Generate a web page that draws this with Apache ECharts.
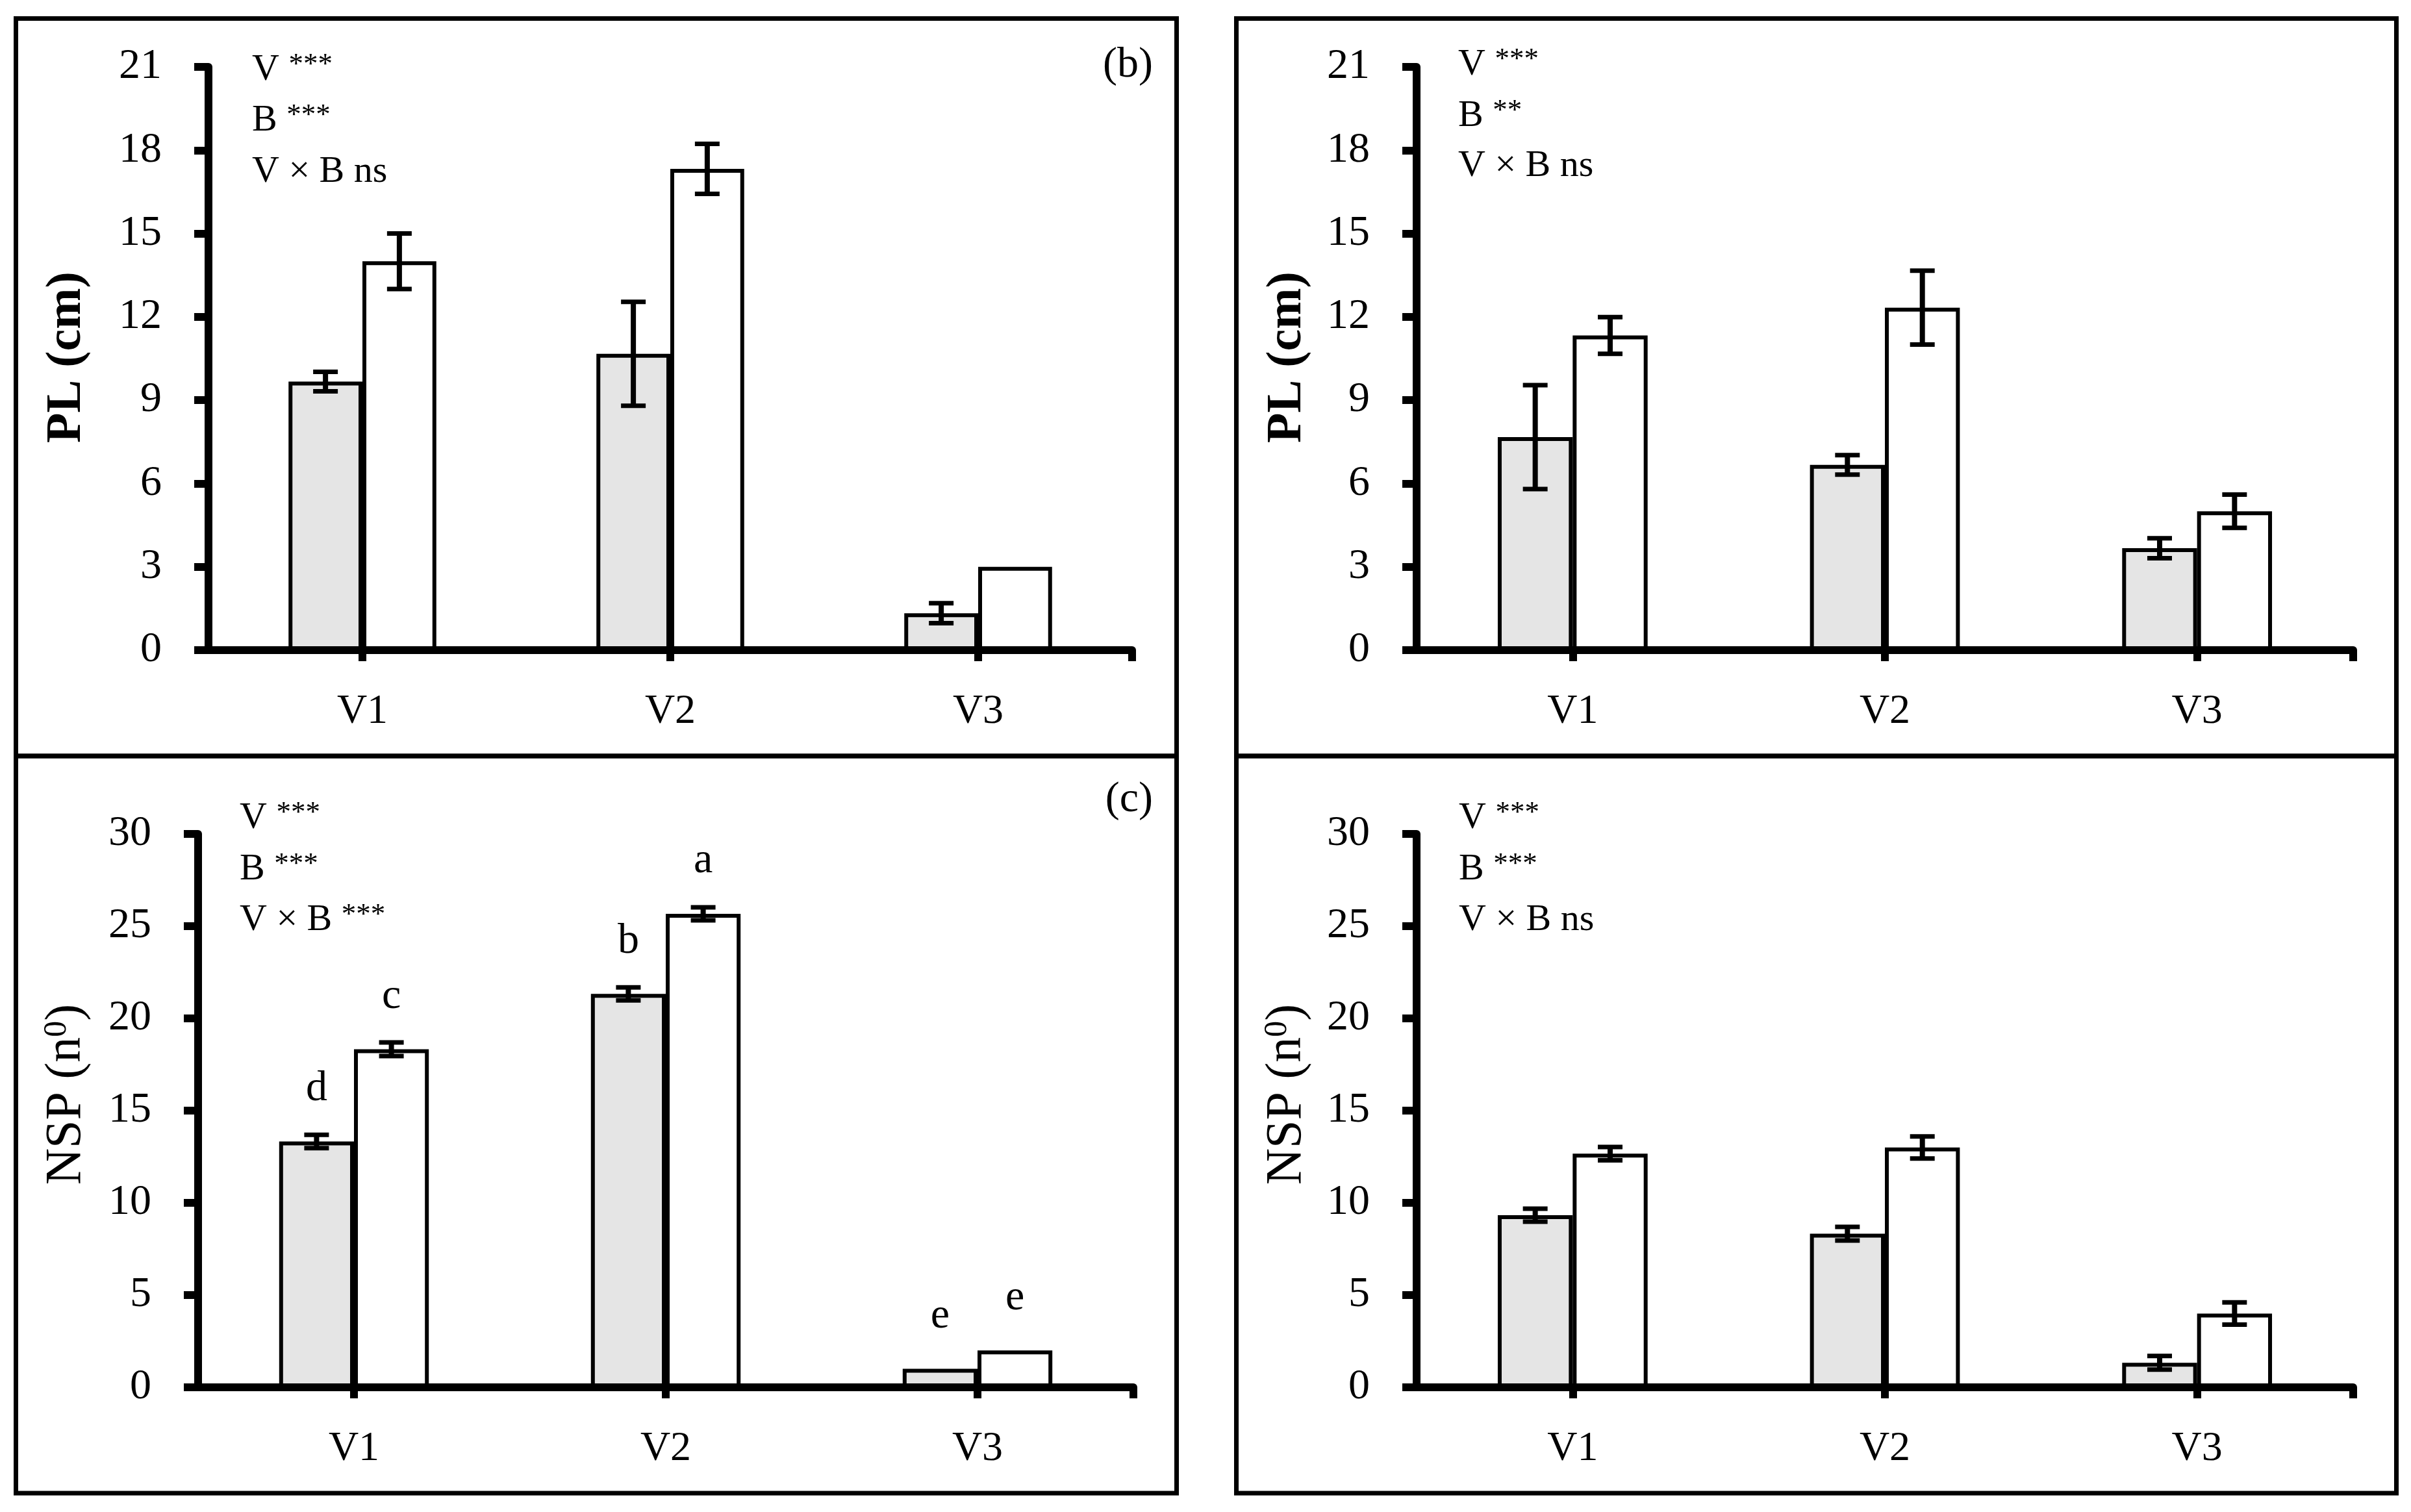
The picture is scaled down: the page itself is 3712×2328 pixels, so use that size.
<!DOCTYPE html>
<html>
<head>
<meta charset="utf-8">
<title>PL and NSP by variety</title>
<script src="https://cdn.jsdelivr.net/npm/echarts@6/dist/echarts.min.js"></script>
<style>
  html, body { margin: 0; padding: 0; background: #fff; }
  #chart { width: 3712px; height: 2328px; }
</style>
</head>
<body>
<div id="chart"></div>
<script>
const categories = ['V1', 'V2', 'V3'];

// (b) PL, left panel
const plGreyB = [9.67, 10.67, 1.33];
const plWhiteB = [14.0, 17.33, 3.0];
const plGreyErrB = [0.35, 1.87, 0.36];
const plWhiteErrB = [1.0, 0.9, 0];

// PL, right panel
const plGreyR = [7.67, 6.67, 3.67];
const plWhiteR = [11.33, 12.33, 5.0];
const plGreyErrR = [1.87, 0.35, 0.36];
const plWhiteErrR = [0.66, 1.33, 0.6];

// (c) NSP, left panel
const nspGreyC = [13.33, 21.33, 1.0];
const nspWhiteC = [18.33, 25.67, 2.0];
const nspGreyErrC = [0.36, 0.35, 0];
const nspWhiteErrC = [0.37, 0.35, 0];
const lettersGreyC = ['d', 'b', 'e'];
const lettersWhiteC = ['c', 'a', 'e'];

// NSP, right panel
const nspGreyR = [9.33, 8.33, 1.33];
const nspWhiteR = [12.67, 13.0, 4.0];
const nspGreyErrR = [0.35, 0.37, 0.37];
const nspWhiteErrR = [0.36, 0.6, 0.6];

// significance of the two-way ANOVA terms
const effectsB = [['V', '***'], ['B', '***'], ['V × B', 'ns']];
const effectsPLR = [['V', '***'], ['B', '**'], ['V × B', 'ns']];
const effectsC = [['V', '***'], ['B', '***'], ['V × B', '***']];
const effectsNSPR = [['V', '***'], ['B', '***'], ['V × B', 'ns']];

const FONT = 'Liberation Serif';
const GREY = '#e5e5e5';
const BAR_GAP = 0.52;

const panels = [
    { grid: { left: 321, top: 103, width: 1422, height: 898 }, max: 21, step: 3,
      grey: plGreyB, white: plWhiteB, greyErr: plGreyErrB, whiteErr: plWhiteErrB,
      effects: effectsB, fx: 388, fy: [108, 186, 265],
      tag: '(b)', tagY: 101, name: '{b|PL (cm)}', nameX: 103, nameY: 550 },
    { grid: { left: 2181, top: 103, width: 1442, height: 898 }, max: 21, step: 3,
      grey: plGreyR, white: plWhiteR, greyErr: plGreyErrR, whiteErr: plWhiteErrR,
      effects: effectsPLR, fx: 2245, fy: [100, 179, 256],
      tag: null, name: '{b|PL (cm)}', nameX: 1982, nameY: 550 },
    { grid: { left: 305, top: 1284, width: 1440, height: 852 }, max: 30, step: 5,
      grey: nspGreyC, white: nspWhiteC, greyErr: nspGreyErrC, whiteErr: nspWhiteErrC,
      lettersGrey: lettersGreyC, lettersWhite: lettersWhiteC,
      effects: effectsC, fx: 369, fy: [1260, 1339, 1417],
      tag: '(c)', tagY: 1232, name: '{n|NSP (n}{s|0}{n|)}', nameX: 103, nameY: 1685 },
    { grid: { left: 2181, top: 1284, width: 1442, height: 852 }, max: 30, step: 5,
      grey: nspGreyR, white: nspWhiteR, greyErr: nspGreyErrR, whiteErr: nspWhiteErrR,
      effects: effectsNSPR, fx: 2246, fy: [1260, 1339, 1417],
      tag: null, name: '{n|NSP (n}{s|0}{n|)}', nameX: 1982, nameY: 1685 }
];

// panel frames (outer boxes)
const frames = [
    [24.5, 28.5, 1811.5, 1164],
    [1903.5, 28.5, 3689.5, 1164],
    [24.5, 1164, 1811.5, 2299],
    [1903.5, 1164, 3689.5, 2299]
];

function renderErr(params, api) {
    const e = api.value(2);
    if (!e) return;
    const x = api.value(0), m = api.value(1), side = api.value(3);
    const band = api.size([1, 0])[0];
    const bw = band * (1 - BAR_GAP) / 2;
    const cx = api.coord([x, m])[0] + side * bw / 2;
    const yTop = api.coord([x, m + e])[1];
    const yBot = api.coord([x, m - e])[1];
    const cap = 19;
    const st = { stroke: '#000', lineWidth: 8 };
    return {
        type: 'group',
        children: [
            { type: 'line', shape: { x1: cx, y1: yTop, x2: cx, y2: yBot }, style: st },
            { type: 'line', shape: { x1: cx - cap, y1: yTop, x2: cx + cap, y2: yTop }, style: { stroke: '#000', lineWidth: 7 } },
            { type: 'line', shape: { x1: cx - cap, y1: yBot, x2: cx + cap, y2: yBot }, style: { stroke: '#000', lineWidth: 7 } }
        ]
    };
}

function effectRich(term, sig) {
    if (sig === 'ns') return '{n|' + term + ' ns}';
    return '{n|' + term + ' }{s|' + sig + '}';
}

const grids = [], xAxes = [], yAxes = [], series = [], graphics = [];

frames.forEach(function (f) {
    graphics.push({
        type: 'rect', silent: true,
        shape: { x: f[0], y: f[1], width: f[2] - f[0], height: f[3] - f[1] },
        style: { fill: null, stroke: '#000', lineWidth: 7 }
    });
});

panels.forEach(function (p, i) {
    grids.push(p.grid);

    // category axis: labels only
    xAxes.push({
        type: 'category', gridIndex: i, position: 'bottom', data: categories,
        axisLine: { show: false }, axisTick: { show: false },
        axisLabel: { fontFamily: FONT, fontSize: 64, color: '#000', margin: 63 }
    });
    // value axis on same extent: draws the line and the ticks under each group + end
    xAxes.push({
        type: 'value', gridIndex: i, position: 'bottom', min: 0, max: categories.length,
        axisLine: { onZero: false, lineStyle: { color: '#000', width: 12 } },
        axisTick: {
            show: true, length: 17, lineStyle: { color: '#000', width: 12 },
            customValues: categories.map(function (c, k) { return k + 0.5; }).concat([categories.length])
        },
        axisLabel: { show: false },
        splitLine: { show: false }
    });
    yAxes.push({
        type: 'value', gridIndex: i, min: 0, max: p.max, interval: p.step,
        axisLine: { show: true, onZero: false, lineStyle: { color: '#000', width: 12 } },
        axisTick: { show: true, length: 22, lineStyle: { color: '#000', width: 12 } },
        axisLabel: { fontFamily: FONT, fontSize: 66, color: '#000', margin: 72 },
        splitLine: { show: false }
    });

    const barBase = {
        type: 'bar', xAxisIndex: i * 2, yAxisIndex: i,
        barGap: '0%', barCategoryGap: (BAR_GAP * 100) + '%',
        silent: true, animation: false
    };
    const letterLabel = function (letters) {
        if (!letters) return { show: false };
        return {
            show: true, position: 'top', distance: 48,
            fontFamily: FONT, fontSize: 66, color: '#000',
            formatter: function (prm) { return letters[prm.dataIndex]; }
        };
    };
    series.push(Object.assign({}, barBase, {
        name: 'grey', data: p.grey,
        itemStyle: { color: GREY, borderColor: '#000', borderWidth: 6 },
        label: letterLabel(p.lettersGrey)
    }));
    series.push(Object.assign({}, barBase, {
        name: 'white', data: p.white,
        itemStyle: { color: '#fff', borderColor: '#000', borderWidth: 6 },
        label: letterLabel(p.lettersWhite)
    }));

    const errData = [];
    categories.forEach(function (c, k) {
        errData.push([k, p.grey[k], p.greyErr[k], -1]);
        errData.push([k, p.white[k], p.whiteErr[k], 1]);
    });
    series.push({
        type: 'custom', xAxisIndex: i * 2, yAxisIndex: i, z: 5,
        renderItem: renderErr, data: errData, clip: false,
        silent: true, animation: false,
        encode: { x: 0, y: 1 }
    });

    // significance notes
    p.effects.forEach(function (ef, k) {
        graphics.push({
            type: 'text', silent: true, x: p.fx, y: p.fy[k],
            style: {
                text: effectRich(ef[0], ef[1]),
                align: 'left', verticalAlign: 'middle',
                rich: {
                    n: { fontFamily: FONT, fontSize: 58, lineHeight: 60, color: '#000' },
                    s: { fontFamily: FONT, fontSize: 45, lineHeight: 50, verticalAlign: 'top', color: '#000' }
                }
            }
        });
    });

    if (p.tag) {
        graphics.push({
            type: 'text', silent: true, x: 1775, y: p.tagY,
            style: { text: p.tag, align: 'right', verticalAlign: 'middle',
                     fontFamily: FONT, fontSize: 66, fill: '#000' }
        });
    }

    // y axis title
    graphics.push({
        type: 'text', silent: true, x: p.nameX, y: p.nameY, rotation: Math.PI / 2,
        style: {
            text: p.name, align: 'center', verticalAlign: 'middle',
            rich: {
                b: { fontFamily: FONT, fontSize: 76, fontWeight: 'bold', lineHeight: 80, color: '#000' },
                n: { fontFamily: FONT, fontSize: 78, lineHeight: 80, color: '#000' },
                s: { fontFamily: FONT, fontSize: 50, lineHeight: 60, verticalAlign: 'top', color: '#000' }
            }
        }
    });
});

const chart = echarts.init(document.getElementById('chart'), null, { renderer: 'canvas' });
chart.setOption({
    backgroundColor: '#fff',
    animation: false,
    grid: grids,
    xAxis: xAxes,
    yAxis: yAxes,
    series: series,
    graphic: graphics
});
</script>
</body>
</html>
